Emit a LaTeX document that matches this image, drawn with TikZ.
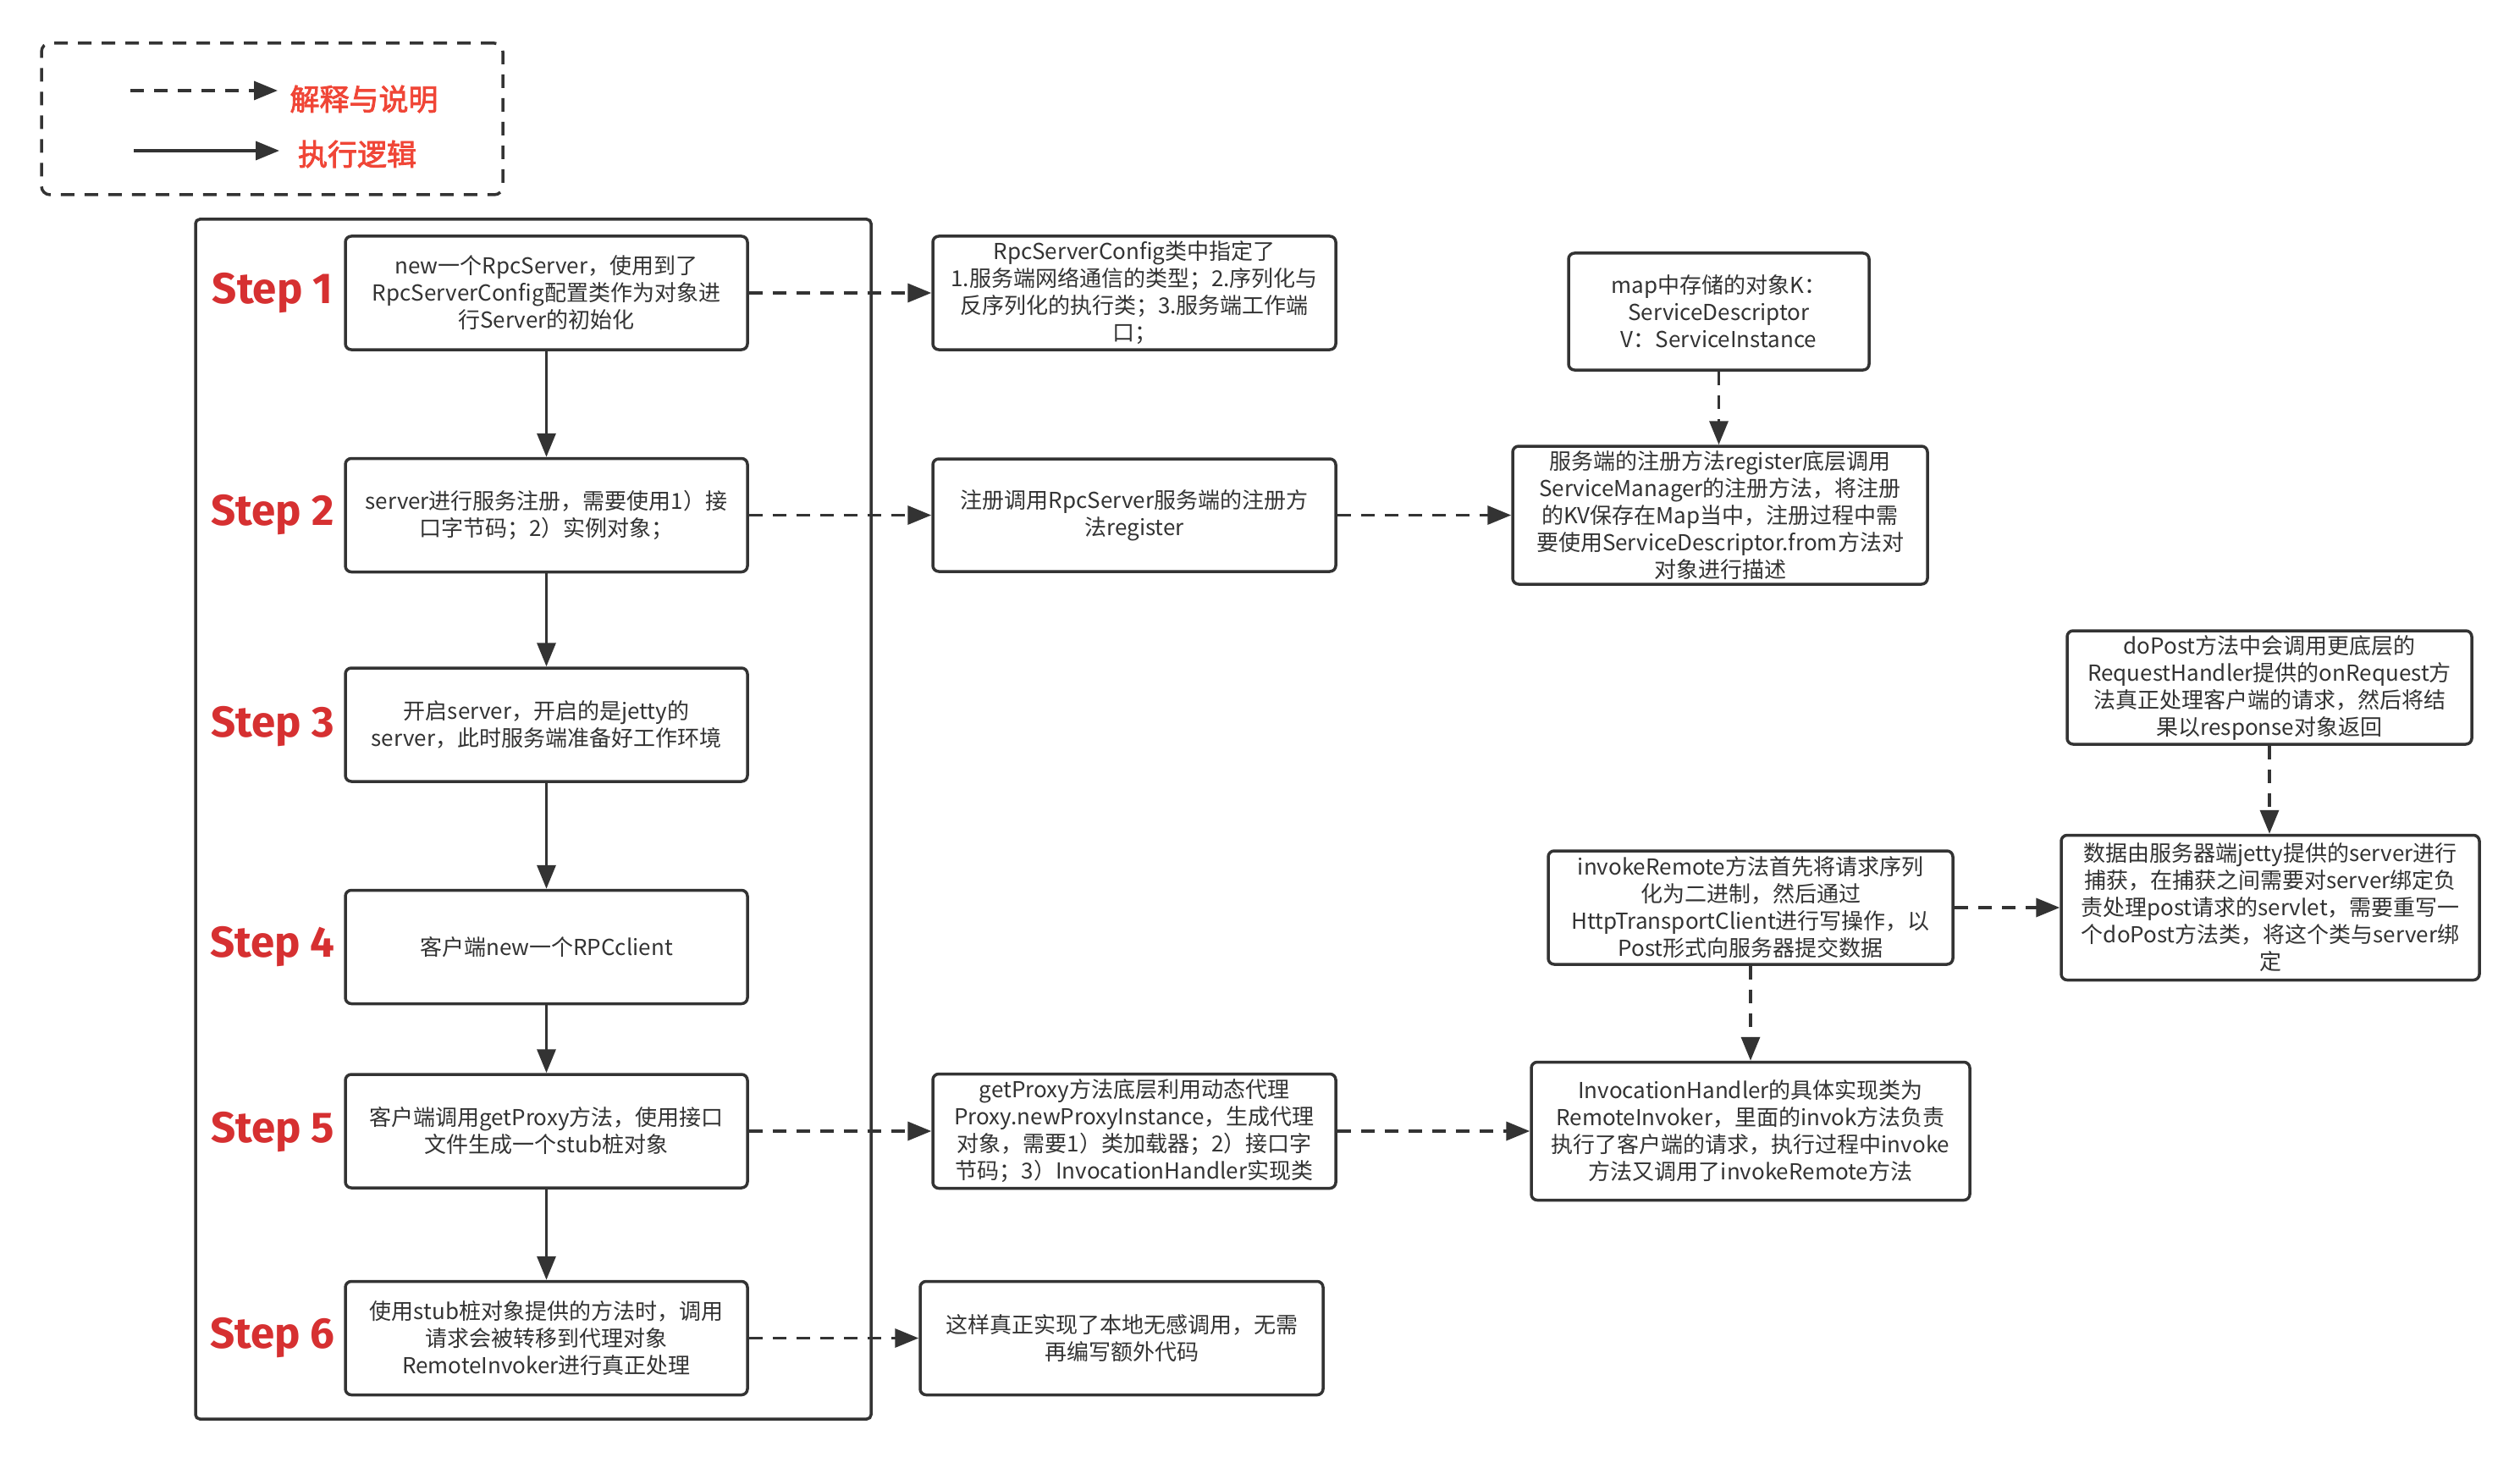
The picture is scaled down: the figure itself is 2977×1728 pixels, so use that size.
\documentclass[tikz,border=0pt]{standalone}
\usepackage{fontspec}
\setmainfont{Noto Sans CJK SC}
\newfontfamily\stepfont{Fira Sans}
\newfontfamily\legfont{Noto Sans CJK SC}[FakeBold=2.5]
\usetikzlibrary{arrows.meta}
\definecolor{ink}{RGB}{51,51,51}
\definecolor{stepred}{RGB}{214,48,49}
\definecolor{legred}{RGB}{240,70,55}
\tikzset{
  box/.style={draw=ink, line width=3.5pt, rounded corners=7pt, fill=white, align=center, text=ink,
    font=\fontsize{26}{32}\selectfont, inner sep=4pt},
  flow/.style={draw=ink, line width=3.5pt, -{Triangle[length=28pt,width=22pt]}},
  note/.style={flow, dash pattern=on 16pt off 12pt},
  steplabel/.style={text=stepred, font=\stepfont\bfseries\fontsize{51}{60}\selectfont},
  legtext/.style={text=legred, font=\legfont\fontsize{35}{40}\selectfont},
}
\begin{document}
\begin{tikzpicture}[x=1pt,y=-1pt]
\fill[white] (0,0) rectangle (2977,1728);
\useasboundingbox (0,0) rectangle (2977,1728);

% legend
\node[draw=ink, dash pattern=on 16pt off 12pt, line width=3.5pt, rounded corners=10pt,
  minimum width=545pt, minimum height=179pt] (legend) at (321.5,140.5) {};
\coordinate (ld1) at (154,107);
\coordinate (ld2) at (328,107);
\coordinate (ls1) at (158,178);
\coordinate (ls2) at (330,178);
\draw[note] (ld1) -- (ld2);
\draw[flow] (ls1) -- (ls2);
\node[legtext] (legA) at (430,117) {解释与说明};
\node[legtext] (legB) at (422,182) {执行逻辑};

% container
\node[draw=ink, line width=3.5pt, rounded corners=5pt, minimum width=798pt, minimum height=1417pt] (frame) at (630,967.5) {};

% step labels
\node[steplabel] (L1) at (322,346) {Step 1};
\node[steplabel] (L2) at (322,608.5) {Step 2};
\node[steplabel] (L3) at (322,858) {Step 3};
\node[steplabel] (L4) at (322,1118.5) {Step 4};
\node[steplabel] (L5) at (322,1337) {Step 5};
\node[steplabel] (L6) at (322,1580.5) {Step 6};

% step boxes
\node[box, minimum width=475pt, minimum height=134pt] (S1) at (645.5,346)
  {new一个RpcServer，使用到了\\RpcServerConfig配置类作为对象进\\行Server的初始化};
\node[box, minimum width=475pt, minimum height=134pt] (S2) at (645.5,608.5)
  {server进行服务注册，需要使用1）接\\口字节码；2）实例对象；};
\node[box, minimum width=475pt, minimum height=134pt] (S3) at (645.5,856)
  {开启server，开启的是jetty的\\server，此时服务端准备好工作环境};
\node[box, minimum width=475pt, minimum height=134pt] (S4) at (645.5,1118.5)
  {客户端new一个RPCclient};
\node[box, minimum width=475pt, minimum height=134pt] (S5) at (645.5,1336)
  {客户端调用getProxy方法，使用接口\\文件生成一个stub桩对象};
\node[box, minimum width=475pt, minimum height=134pt] (S6) at (645.5,1580.5)
  {使用stub桩对象提供的方法时，调用\\请求会被转移到代理对象\\RemoteInvoker进行真正处理};

% second column
\node[box, minimum width=476pt, minimum height=134pt] (A1) at (1340,346)
  {RpcServerConfig类中指定了\\1.服务端网络通信的类型；2.序列化与\\反序列化的执行类；3.服务端工作端\\口；};
\node[box, minimum width=476pt, minimum height=133pt] (A2) at (1340,608.5)
  {注册调用RpcServer服务端的注册方\\法register};
\node[box, minimum width=476pt, minimum height=135pt] (A5) at (1340,1336)
  {getProxy方法底层利用动态代理\\Proxy.newProxyInstance，生成代理\\对象，需要1）类加载器；2）接口字\\节码；3）InvocationHandler实现类};
\node[box, minimum width=476pt, minimum height=134pt] (A6) at (1325,1580.5)
  {这样真正实现了本地无感调用，无需\\再编写额外代码};

% third column
\node[box, minimum width=355pt, minimum height=138pt] (B1) at (2030.5,368)
  {map中存储的对象K：\\ServiceDescriptor\\V：ServiceInstance};
\node[box, minimum width=490pt, minimum height=163pt] (B2) at (2032,608.5)
  {服务端的注册方法register底层调用\\ServiceManager的注册方法，将注册\\的KV保存在Map当中，注册过程中需\\要使用ServiceDescriptor.from方法对\\对象进行描述};
\node[box, minimum width=478pt, minimum height=134pt] (C1) at (2068,1072)
  {invokeRemote方法首先将请求序列\\化为二进制，然后通过\\HttpTransportClient进行写操作，以\\Post形式向服务器提交数据};
\node[box, minimum width=518pt, minimum height=163pt] (C2) at (2068,1336)
  {InvocationHandler的具体实现类为\\RemoteInvoker，里面的invok方法负责\\执行了客户端的请求，执行过程中invoke\\方法又调用了invokeRemote方法};

% fourth column
\node[box, minimum width=478pt, minimum height=134pt] (D1) at (2681,812)
  {doPost方法中会调用更底层的\\RequestHandler提供的onRequest方\\法真正处理客户端的请求，然后将结\\果以response对象返回};
\node[box, minimum width=494pt, minimum height=171pt] (D2) at (2682,1072)
  {数据由服务器端jetty提供的server进行\\捕获，在捕获之间需要对server绑定负\\责处理post请求的servlet，需要重写一\\个doPost方法类，将这个类与server绑\\定};

% execution flow
\draw[flow] (S1) -- (S2);
\draw[flow] (S2) -- (S3);
\draw[flow] (S3) -- (S4);
\draw[flow] (S4) -- (S5);
\draw[flow] (S5) -- (S6);

% explanations
\draw[note] (S1.east) -- (S1.east -| A1.west);
\draw[note] (S2.east) -- (S2.east -| A2.west);
\draw[note] (A2.east) -- (A2.east -| B2.west);
\draw[note] (B1.south) -- (B1.south |- B2.north);
\draw[note] (S5.east) -- (S5.east -| A5.west);
\draw[note] (A5.east) -- (A5.east -| C2.west);
\draw[note] (C1.south) -- (C1.south |- C2.north);
\draw[note] (C1.east) -- (C1.east -| D2.west);
\draw[note] (D1.south) -- (D1.south |- D2.north);
\draw[note] (S6.east) -- (S6.east -| A6.west);
\end{tikzpicture}
\end{document}
